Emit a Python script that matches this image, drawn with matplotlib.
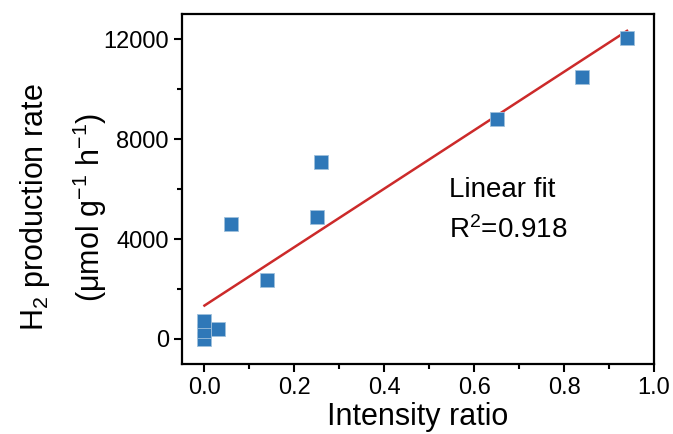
import numpy as np
import matplotlib
matplotlib.use("Agg")
import matplotlib.pyplot as plt
from matplotlib.ticker import MultipleLocator

plt.rcParams['font.family'] = ['Liberation Sans', 'DejaVu Sans']
plt.rcParams['mathtext.fontset'] = 'custom'
plt.rcParams['mathtext.rm'] = 'Liberation Sans'
plt.rcParams['mathtext.it'] = 'Liberation Sans:italic'
plt.rcParams['mathtext.bf'] = 'Liberation Sans:bold'

# data
intensity_ratio = [0.0, 0.0, 0.0, 0.03, 0.06, 0.14, 0.25, 0.26, 0.65, 0.84, 0.94]
h2_rate = [0, 300, 720, 400, 4620, 2380, 4900, 7100, 8800, 10500, 12050]

x = np.array(intensity_ratio)
y = np.array(h2_rate)
slope, intercept = np.polyfit(x, y, 1)
fit_x = np.array([x.min(), x.max()])

fig = plt.figure(figsize=(6.73, 4.34), dpi=100)
ax = fig.add_axes([0.2704, 0.1613, 0.7014, 0.8064])

ax.plot(fit_x, slope * fit_x + intercept, color='#cc2a2a', lw=1.8, zorder=2)
ax.plot(x, y, 's', color='#2f78b8', markersize=9.5,
        markeredgecolor='#9fc0dc', markeredgewidth=0.6, zorder=3)

ax.set_xlim(-0.05, 1.0)
ax.set_ylim(-1000, 13000)
ax.xaxis.set_major_locator(MultipleLocator(0.2))
ax.xaxis.set_minor_locator(MultipleLocator(0.1))
ax.yaxis.set_major_locator(MultipleLocator(4000))
ax.yaxis.set_minor_locator(MultipleLocator(2000))
ax.xaxis.set_major_formatter(matplotlib.ticker.FormatStrFormatter('%.1f'))

for s in ax.spines.values():
    s.set_linewidth(1.6)
ax.tick_params(which='major', direction='out', length=6, width=1.5, labelsize=17)
ax.tick_params(which='minor', direction='out', length=3.5, width=1.5)
ax.tick_params(top=False, right=False, which='both')

ax.set_xlabel('Intensity ratio', fontsize=22, labelpad=2)

fig.text(0.052, 0.523, 'H$_2$ production rate', rotation=90,
         ha='center', va='center', fontsize=22)
fig.text(0.134, 0.523, '(μmol g$^{-1}$ h$^{-1}$)', rotation=90,
         ha='center', va='center', fontsize=22)

ax.text(0.543, 5680, 'Linear fit', fontsize=20, va='baseline')
ax.text(0.543, 4040, 'R$^2$=0.918', fontsize=20, va='baseline')

fig.savefig('out.png', dpi=100)
